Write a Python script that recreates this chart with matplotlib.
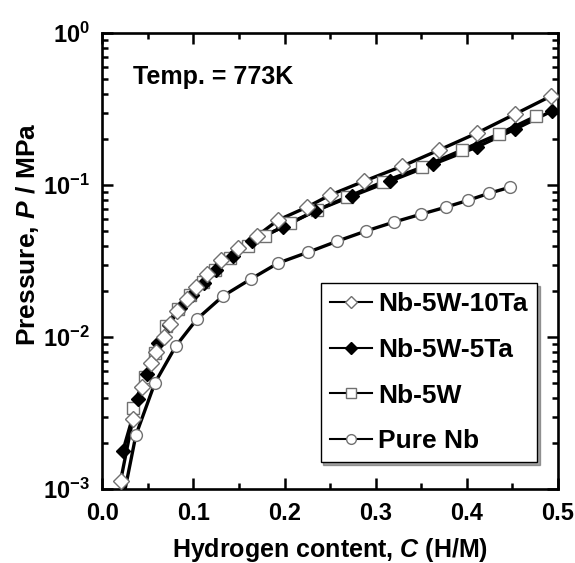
import matplotlib
matplotlib.use("Agg")
import matplotlib.pyplot as plt
from matplotlib.ticker import LogLocator, MultipleLocator, FixedLocator, NullFormatter

plt.rcParams['font.family'] = ['Liberation Sans', 'DejaVu Sans']
plt.rcParams['font.weight'] = 'bold'
plt.rcParams['mathtext.fontset'] = 'custom'
plt.rcParams['mathtext.rm'] = 'Liberation Sans:bold'
plt.rcParams['mathtext.bf'] = 'Liberation Sans:bold'
plt.rcParams['mathtext.it'] = 'Liberation Sans:bold:italic'

# ---- data ----
ta10_c = [0.020, 0.0335, 0.0434, 0.0532, 0.0587, 0.0675, 0.0741, 0.0818, 0.0928, 0.1026,
          0.1147, 0.1301, 0.1488, 0.1696, 0.1927, 0.2245, 0.2497, 0.287, 0.3288, 0.3694,
          0.4111, 0.4528, 0.4923]
ta10_p = [0.00113, 0.00289, 0.00469, 0.00675, 0.00797, 0.0100, 0.0122, 0.0148, 0.0178, 0.0213,
          0.0260, 0.0321, 0.0385, 0.0462, 0.0588, 0.0716, 0.0859, 0.106, 0.133, 0.170,
          0.220, 0.293, 0.385]

ta5_c = [0.0225, 0.039, 0.0489, 0.0609, 0.073, 0.0851, 0.0982, 0.1114, 0.1246, 0.1432,
         0.1641, 0.1981, 0.2333, 0.2739, 0.3156, 0.3628, 0.4111, 0.4528, 0.4934]
ta5_p = [0.00178, 0.00391, 0.00571, 0.00914, 0.0120, 0.0155, 0.0189, 0.0227, 0.0276, 0.0341,
         0.0428, 0.0529, 0.0675, 0.0847, 0.106, 0.137, 0.178, 0.233, 0.307]

w5_c = [0.0335, 0.0467, 0.0576, 0.0697, 0.0829, 0.096, 0.1103, 0.1235, 0.140, 0.1597,
        0.1784, 0.2058, 0.2355, 0.2684, 0.3079, 0.3507, 0.3946, 0.4352, 0.4758]
w5_p = [0.00341, 0.00546, 0.00785, 0.0118, 0.0153, 0.0189, 0.0230, 0.0276, 0.0331, 0.0397,
        0.0462, 0.0562, 0.0685, 0.0834, 0.105, 0.131, 0.170, 0.217, 0.284]

nb_c = [0.0368, 0.0576, 0.0807, 0.1037, 0.1323, 0.163, 0.193, 0.226, 0.258, 0.289,
        0.320, 0.350, 0.377, 0.402, 0.425, 0.448]
nb_p = [0.00226, 0.00498, 0.00873, 0.0131, 0.0186, 0.0241, 0.0307, 0.0362, 0.0428, 0.0498,
        0.0571, 0.0644, 0.0716, 0.0796, 0.0886, 0.097]
nb_line_start_c = [0.025]
nb_line_start_p = [0.001]

labels = ['Nb-5W-10Ta', 'Nb-5W-5Ta', 'Nb-5W', 'Pure Nb']
x_ticks = [0.0, 0.1, 0.2, 0.3, 0.4, 0.5]
x_ticklabels = ['0.0', '0.1', '0.2', '0.3', '0.4', '0.5']
y_ticks = [1e-3, 1e-2, 1e-1, 1e0]
y_ticklabels = [r'$\mathbf{10^{-3}}$', r'$\mathbf{10^{-2}}$', r'$\mathbf{10^{-1}}$', r'$\mathbf{10^{0}}$']

fig = plt.figure(figsize=(5.75, 5.63), dpi=100)
ax = fig.add_axes([0.178, 0.1314, 0.792, 0.8096])
ax.set_yscale('log')

lw = 2.4
edge = '#707070'
# lines
ax.plot(ta10_c, ta10_p, '-', color='black', lw=lw, zorder=2)
ax.plot(ta5_c, ta5_p, '-', color='black', lw=lw, zorder=2)
ax.plot(w5_c, w5_p, '-', color='black', lw=lw, zorder=2)
ax.plot(nb_line_start_c + nb_c, nb_line_start_p + nb_p, '-', color='black', lw=lw, zorder=2)

# markers
ax.plot(w5_c, w5_p, 's', ms=8, mfc='white', mec=edge, mew=1.0, zorder=3)
ax.plot(ta5_c, ta5_p, 'D', ms=7.5, mfc='black', mec='black', mew=1.0, zorder=4)
ax.plot(ta10_c, ta10_p, 'D', ms=8, mfc='white', mec=edge, mew=1.0, zorder=5)
ax.plot(nb_c, nb_p, 'o', ms=8.5, mfc='white', mec=edge, mew=1.0, zorder=3)

# legend proxies
h1, = ax.plot([], [], '-D', color='black', lw=1.5, ms=6.5, mfc='white', mec=edge, mew=1.0)
h2, = ax.plot([], [], '-D', color='black', lw=1.5, ms=6.5, mfc='black', mec='black')
h3, = ax.plot([], [], '-s', color='black', lw=1.5, ms=6.5, mfc='white', mec=edge, mew=1.0)
h4, = ax.plot([], [], '-o', color='black', lw=1.5, ms=7, mfc='white', mec=edge, mew=1.0)
leg = ax.legend([h1, h2, h3, h4], labels, loc='lower right', bbox_to_anchor=(0.954, 0.059),
                prop={'family': 'Liberation Sans', 'weight': 'bold', 'size': 19},
                frameon=True, fancybox=False, shadow=True, handlelength=1.6,
                handletextpad=0.25, labelspacing=0.82, borderpad=0.34, borderaxespad=0)
leg.get_frame().set_edgecolor('black')
leg.get_frame().set_linewidth(1.0)

ax.set_xlim(0, 0.5)
ax.set_ylim(1e-3, 1e0)
ax.xaxis.set_major_locator(FixedLocator(x_ticks))
ax.set_xticklabels(x_ticklabels)
ax.xaxis.set_minor_locator(MultipleLocator(0.05))
ax.yaxis.set_major_locator(FixedLocator(y_ticks))
ax.set_yticklabels(y_ticklabels)
ax.yaxis.set_minor_locator(LogLocator(base=10, subs=range(2, 10)))
ax.yaxis.set_minor_formatter(NullFormatter())

ax.tick_params(which='both', direction='in', top=True, right=True, labelsize=17, width=1.8)
ax.tick_params(which='major', length=8)
ax.tick_params(which='minor', length=4.5)
ax.tick_params(axis='x', which='major', pad=9)
ax.tick_params(axis='y', which='major', pad=9)
for lbl in ax.get_xticklabels() + ax.get_yticklabels():
    lbl.set_fontweight('bold')
for s in ax.spines.values():
    s.set_linewidth(1.9)

ax.set_xlabel(r'Hydrogen content, $\mathit{C}$ (H/M)', fontsize=18, fontweight='bold', labelpad=8)
ax.set_ylabel(r'Pressure, $\mathit{P}$ / MPa', fontsize=19, fontweight='bold')
ax.yaxis.set_label_coords(-0.135, 0.56)

ax.text(0.067, 0.904, 'Temp. = 773K', transform=ax.transAxes, fontsize=18, fontweight='bold',
        va='center', ha='left')

fig.savefig('out.png', dpi=100)
